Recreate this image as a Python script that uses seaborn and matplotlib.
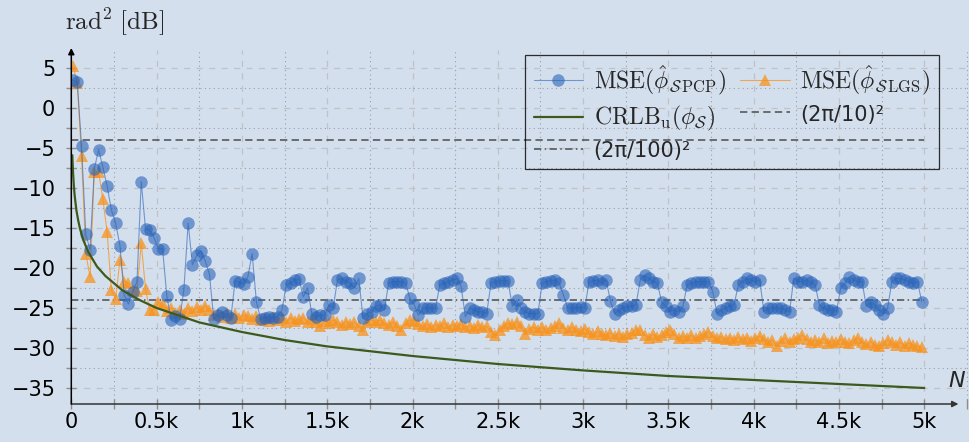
import matplotlib
matplotlib.use("Agg")
import matplotlib.pyplot as plt
import seaborn as sns
import pandas as pd
from matplotlib.ticker import MultipleLocator, FuncFormatter
from matplotlib.lines import Line2D

# Number of samples N at which the phase estimators were evaluated
n_samples = list(range(10, 5000, 25))

# MSE of the PCP phase estimate [dB rad^2]
mse_pcp = [
    3.5, 3.2, -4.7, -15.8, -17.7, -7.6, -5.2, -7.4, -9.75, -12.75,
    -14.4, -17.2, -23.4, -24.5, -23.0, -21.7, -9.2, -15.1, -15.3, -16.2,
    -17.6, -17.6, -23.5, -26.5, -26.0, -26.4, -22.7, -14.4, -19.6, -18.4,
    -17.9, -19.1, -20.8, -26.4, -25.9, -25.5, -25.9, -26.3, -21.6, -21.8,
    -22.0, -21.1, -18.2, -24.2, -26.4, -26.2, -26.1, -26.2, -26.1, -25.25,
    -22.1, -21.9, -21.5, -21.4, -23.6, -22.5, -25.75, -26.1, -25.9, -25.9,
    -24.6, -25.0, -21.5, -21.3, -21.7, -21.9, -22.5, -21.3, -26.3, -25.7,
    -25.5, -24.8, -24.6, -25.25, -21.9, -21.7, -21.7, -21.7, -21.9, -23.8,
    -24.6, -25.9, -25.0, -25.0, -25.0, -25.0, -22.1, -21.9, -21.7, -21.5,
    -21.3, -22.3, -26.1, -25.0, -25.25, -25.5, -25.45, -25.7, -21.9, -21.7,
    -21.6, -21.6, -21.6, -24.8, -24.0, -25.0, -25.5, -25.7, -25.7, -25.7,
    -21.9, -21.7, -21.6, -21.5, -21.9, -23.4, -25.0, -25.0, -25.0, -24.9,
    -25.0, -21.7, -21.6, -21.5, -21.9, -21.5, -24.1, -25.7, -25.25, -25.0,
    -24.8, -24.8, -24.6, -21.5, -20.9, -21.3, -21.7, -21.9, -24.2, -24.8,
    -25.45, -25.25, -25.45, -24.8, -22.1, -21.9, -21.7, -21.7, -21.7, -21.7,
    -22.95, -25.7, -25.25, -25.0, -24.8, -24.6, -22.1, -21.7, -21.3, -21.5,
    -21.7, -21.5, -25.45, -25.0, -25.0, -25.0, -25.0, -25.25, -25.45, -21.3,
    -21.7, -21.7, -21.5, -21.7, -22.1, -24.6, -25.0, -25.25, -25.25, -25.45,
    -22.5, -21.9, -21.1, -21.5, -21.7, -21.7, -24.8, -24.2, -24.6, -25.25,
    -25.7, -25.0, -21.7, -21.3, -21.3, -21.5, -21.7, -21.9, -21.7, -24.2,
]

# MSE of the LGS phase estimate [dB rad^2]
mse_lgs = [
    5.2, 3.1, -6.0, -18.2, -21.1, -8.0, -8.0, -11.4, -15.5, -22.75,
    -23.9, -19.0, -21.7, -21.9, -22.75, -22.9, -16.9, -22.6, -25.3, -25.2,
    -24.3, -24.5, -25.4, -25.0, -25.6, -25.2, -25.8, -25.0, -25.4, -24.9,
    -25.3, -24.7, -25.2, -25.9, -25.7, -26.1, -25.6, -26.2, -25.8, -26.3,
    -25.9, -26.0, -26.4, -26.0, -26.5, -26.2, -26.6, -26.1, -26.5, -26.3,
    -26.7, -26.2, -26.6, -26.4, -26.2, -26.7, -26.4, -26.8, -27.3, -26.6,
    -26.9, -26.5, -26.8, -27.1, -26.7, -27.0, -26.8, -27.2, -27.7, -26.8,
    -26.5, -26.7, -26.5, -26.9, -27.1, -26.8, -27.2, -27.7, -26.9, -26.5,
    -26.6, -27.0, -27.3, -27.0, -27.4, -27.1, -27.3, -26.9, -27.4, -27.1,
    -27.3, -27.0, -27.4, -27.2, -27.5, -27.1, -27.4, -27.3, -28.0, -28.4,
    -27.8, -27.2, -26.9, -27.0, -26.7, -27.3, -28.2, -27.6, -27.4, -27.7,
    -27.4, -27.8, -27.5, -27.3, -26.9, -27.5, -27.8, -27.4, -27.7, -27.9,
    -27.6, -28.0, -28.3, -27.9, -28.2, -28.4, -28.1, -28.5, -28.2, -28.6,
    -28.3, -28.1, -27.8, -27.7, -28.4, -28.7, -28.3, -28.6, -28.4, -28.0,
    -27.7, -28.3, -28.8, -28.5, -28.7, -28.4, -28.8, -28.5, -28.3, -28.0,
    -28.5, -28.8, -28.6, -28.9, -28.7, -29.0, -28.6, -28.9, -28.7, -29.1,
    -28.8, -28.5, -28.9, -29.2, -29.0, -29.8, -29.1, -28.8, -29.2, -28.9,
    -28.7, -28.4, -28.9, -29.3, -29.0, -29.2, -28.8, -29.4, -29.1, -29.3,
    -28.9, -29.2, -29.4, -29.0, -28.7, -29.3, -29.5, -29.2, -29.6, -29.8,
    -29.4, -29.0, -29.3, -29.6, -29.3, -29.7, -29.4, -29.6, -29.8, -29.9,
]

# Unbiased Cramer-Rao lower bound [dB rad^2]
crlb_n = [6, 8, 10, 15, 20, 30, 40, 50, 70, 100, 150, 200, 300, 400, 500,
          750, 1000, 1250, 1500, 2000, 2500, 3000, 3500, 4000, 4500, 5000]
crlb_db = [-5.9, -7.0, -8.0, -9.8, -11.0, -12.8, -14.0, -15.0, -16.5, -18.0,
           -19.8, -21.0, -22.8, -24.0, -25.0, -26.8, -28.0, -29.0, -29.8,
           -31.0, -32.0, -32.8, -33.5, -34.0, -34.5, -35.0]

# Reference accuracy levels (2*pi/10)^2 and (2*pi/100)^2 in dB
ref_n = [0, 5000]
ref_coarse = [-4.04, -4.04]
ref_fine = [-24.04, -24.04]

BG = "#d4dfee"
BLUE = "#2a64b8"
ORANGE = "#f7931e"
GREEN = "#3b5a1c"
REF = "#4d4d4d"

sns.set_theme(style="white")
plt.rcParams["font.family"] = ["DejaVu Sans"]
plt.rcParams["mathtext.fontset"] = "cm"

W, H = 969, 442
fig = plt.figure(figsize=(W / 100, H / 100), dpi=100)
fig.patch.set_facecolor(BG)
x0, xr, yb, yt = 71.3, 969, 404, 50
ax = fig.add_axes([x0 / W, 1 - yb / H, (xr - x0) / W, (yb - yt) / H])
ax.set_facecolor(BG)

df_pcp = pd.DataFrame({"N": n_samples, "mse": mse_pcp})
df_lgs = pd.DataFrame({"N": n_samples, "mse": mse_lgs})
df_crlb = pd.DataFrame({"N": crlb_n, "mse": crlb_db})

MS_O, MS_T = 9, 8.5
sns.lineplot(data=df_pcp, x="N", y="mse", ax=ax, color=BLUE, lw=0.8,
             marker="o", markersize=MS_O, markeredgewidth=0, alpha=0.6,
             estimator=None, sort=False, zorder=4)
sns.lineplot(data=df_lgs, x="N", y="mse", ax=ax, color=ORANGE, lw=0.8,
             marker="^", markersize=MS_T, markeredgewidth=0, alpha=0.75,
             estimator=None, sort=False, zorder=3)
sns.lineplot(data=df_crlb, x="N", y="mse", ax=ax, color=GREEN, lw=1.6,
             estimator=None, sort=False, zorder=5)
ax.plot(ref_n, ref_coarse, color=REF, lw=1.1, ls=(0, (4.8, 2.8)), zorder=2)
ax.plot(ref_n, ref_fine, color=REF, lw=1.1, ls=(0, (4.8, 2.2, 1, 2.2)), zorder=2)

ax.set_xlim(0, 5262)
ax.set_ylim(-37, 7.25)
ax.set_xlabel("")
ax.set_ylabel("")

ax.xaxis.set_major_locator(MultipleLocator(500))
ax.xaxis.set_minor_locator(MultipleLocator(250))
ax.yaxis.set_major_locator(MultipleLocator(5))
ax.yaxis.set_minor_locator(MultipleLocator(2.5))
ax.xaxis.set_major_formatter(FuncFormatter(
    lambda v, p: "0" if v == 0 else f"{v / 1000:g}k"))

ax.grid(which="major", color="#bfc2c6", lw=0.9, ls=(0, (5, 5)))
ax.grid(which="minor", color="#9a9ea4", lw=0.8, ls=(0, (1, 3)))
ax.set_axisbelow(True)

for s in ax.spines.values():
    s.set_visible(False)

ax.tick_params(which="both", direction="inout", length=7, width=1,
               color="#8e8e8e", labelsize=15, labelcolor="black")
ax.tick_params(axis="x", which="both", bottom=True, pad=2)
ax.tick_params(axis="y", which="both", left=True, pad=8)

# axis lines with arrow heads
ax.annotate("", xy=(5200, -37), xytext=(0, -37),
            arrowprops=dict(arrowstyle="-|>", color="#333333", lw=1.1,
                            mutation_scale=9, shrinkA=0, shrinkB=0),
            annotation_clip=False, zorder=6)
ax.annotate("", xy=(0, 7.5), xytext=(0, -37),
            arrowprops=dict(arrowstyle="-|>", color="black", lw=1.1,
                            mutation_scale=9, shrinkA=0, shrinkB=0),
            annotation_clip=False, zorder=6)

fig.text(115 / W, 1 - 22 / H, r"$\mathrm{rad}^2\ [\mathrm{dB}]$",
         ha="center", va="center", fontsize=18)
fig.text(957 / W, 1 - 381 / H, "N", style="italic", fontsize=16,
         ha="center", va="center")

h_pcp = Line2D([], [], color=BLUE, lw=0.8, marker="o", markersize=MS_O,
               markeredgewidth=0, alpha=0.6)
h_lgs = Line2D([], [], color=ORANGE, lw=0.8, marker="^", markersize=MS_T,
               markeredgewidth=0, alpha=0.75)
h_crlb = Line2D([], [], color=GREEN, lw=1.6)
h_c = Line2D([], [], color=REF, lw=1.1, ls=(0, (4.8, 2.8)))
h_f = Line2D([], [], color=REF, lw=1.1, ls=(0, (4.8, 2.2, 1, 2.2)))
handles = [h_pcp, h_crlb, h_f, h_lgs, h_c]
labels = [
    r"$\mathrm{MSE}(\hat{\phi}_{\mathcal{S}\,\mathrm{PCP}})$",
    r"$\mathrm{CRLB}_\mathrm{u}(\phi_\mathcal{S})$",
    "(2π/100)²",
    r"$\mathrm{MSE}(\hat{\phi}_{\mathcal{S}\,\mathrm{LGS}})$",
    "(2π/10)²",
]
leg = ax.legend(handles, labels, ncol=2, loc="upper right",
                bbox_to_anchor=(939 / W, 1 - 55 / H),
                bbox_transform=fig.transFigure, fontsize=17,
                frameon=True, fancybox=False, edgecolor="black",
                handlelength=2.1, handletextpad=0.45, columnspacing=0.6,
                labelspacing=0.3, borderpad=0.35, borderaxespad=0)
for t in leg.get_texts():
    if t.get_text().startswith("(2"):
        t.set_fontsize(15)
leg.get_frame().set_facecolor("none")
leg.get_frame().set_linewidth(0.9)
leg.set_zorder(10)

fig.savefig("out.png", dpi=100, facecolor=BG)
